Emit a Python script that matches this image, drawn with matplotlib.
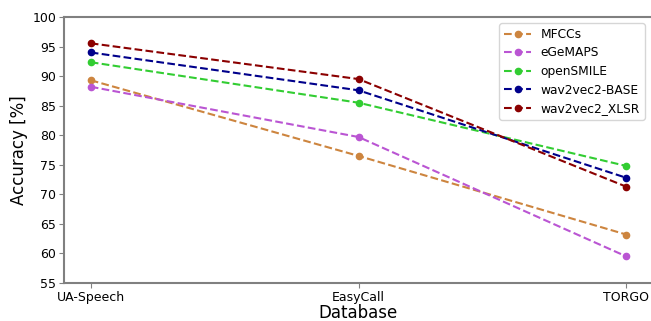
import matplotlib.pyplot as plt

# Accuracy per feature set on each database
databases = ['UA-Speech', 'EasyCall', 'TORGO']
mfccs = [89.3, 76.5, 63.2]
egemaps = [88.2, 79.7, 59.5]
opensmile = [92.35, 85.5, 74.8]
w2v_base = [94.0, 87.6, 72.8]
w2v_xlsr = [95.55, 89.5, 71.3]

series = [
    ('MFCCs', mfccs, 'peru'),
    ('eGeMAPS', egemaps, 'mediumorchid'),
    ('openSMILE', opensmile, 'limegreen'),
    ('wav2vec2-BASE', w2v_base, 'darkblue'),
    ('wav2vec2_XLSR', w2v_xlsr, 'darkred'),
]

fig = plt.figure(figsize=(6.51, 3.21), dpi=100)
ax = fig.add_axes([64 / 651, 1 - 283 / 321, (653 - 64) / 651, (283 - 17) / 321])

x = range(len(databases))
for name, vals, color in series:
    ax.plot(x, vals, '--o', color=color, label=name, markersize=4.5, linewidth=1.5)

ax.set_xlim(-0.1, 2.1)
ax.set_ylim(55, 100)
ax.set_xticks(list(x))
ax.set_xticklabels(databases)
ax.set_yticks(range(55, 101, 5))
ax.tick_params(labelsize=9, color='gray', length=3.5, pad=2)
for s in ax.spines.values():
    s.set_color('gray')
    s.set_linewidth(1.5)

ax.set_xlabel('Database', fontsize=12, labelpad=0)
ax.set_ylabel('Accuracy [%]', fontsize=12, labelpad=3)

ax.legend(loc='upper right', bbox_to_anchor=(651 / 651, 1 - 17 / 321),
          bbox_transform=fig.transFigure, fontsize=8.8, handlelength=2.2,
          labelspacing=0.45)

fig.savefig('out.png', dpi=100)
